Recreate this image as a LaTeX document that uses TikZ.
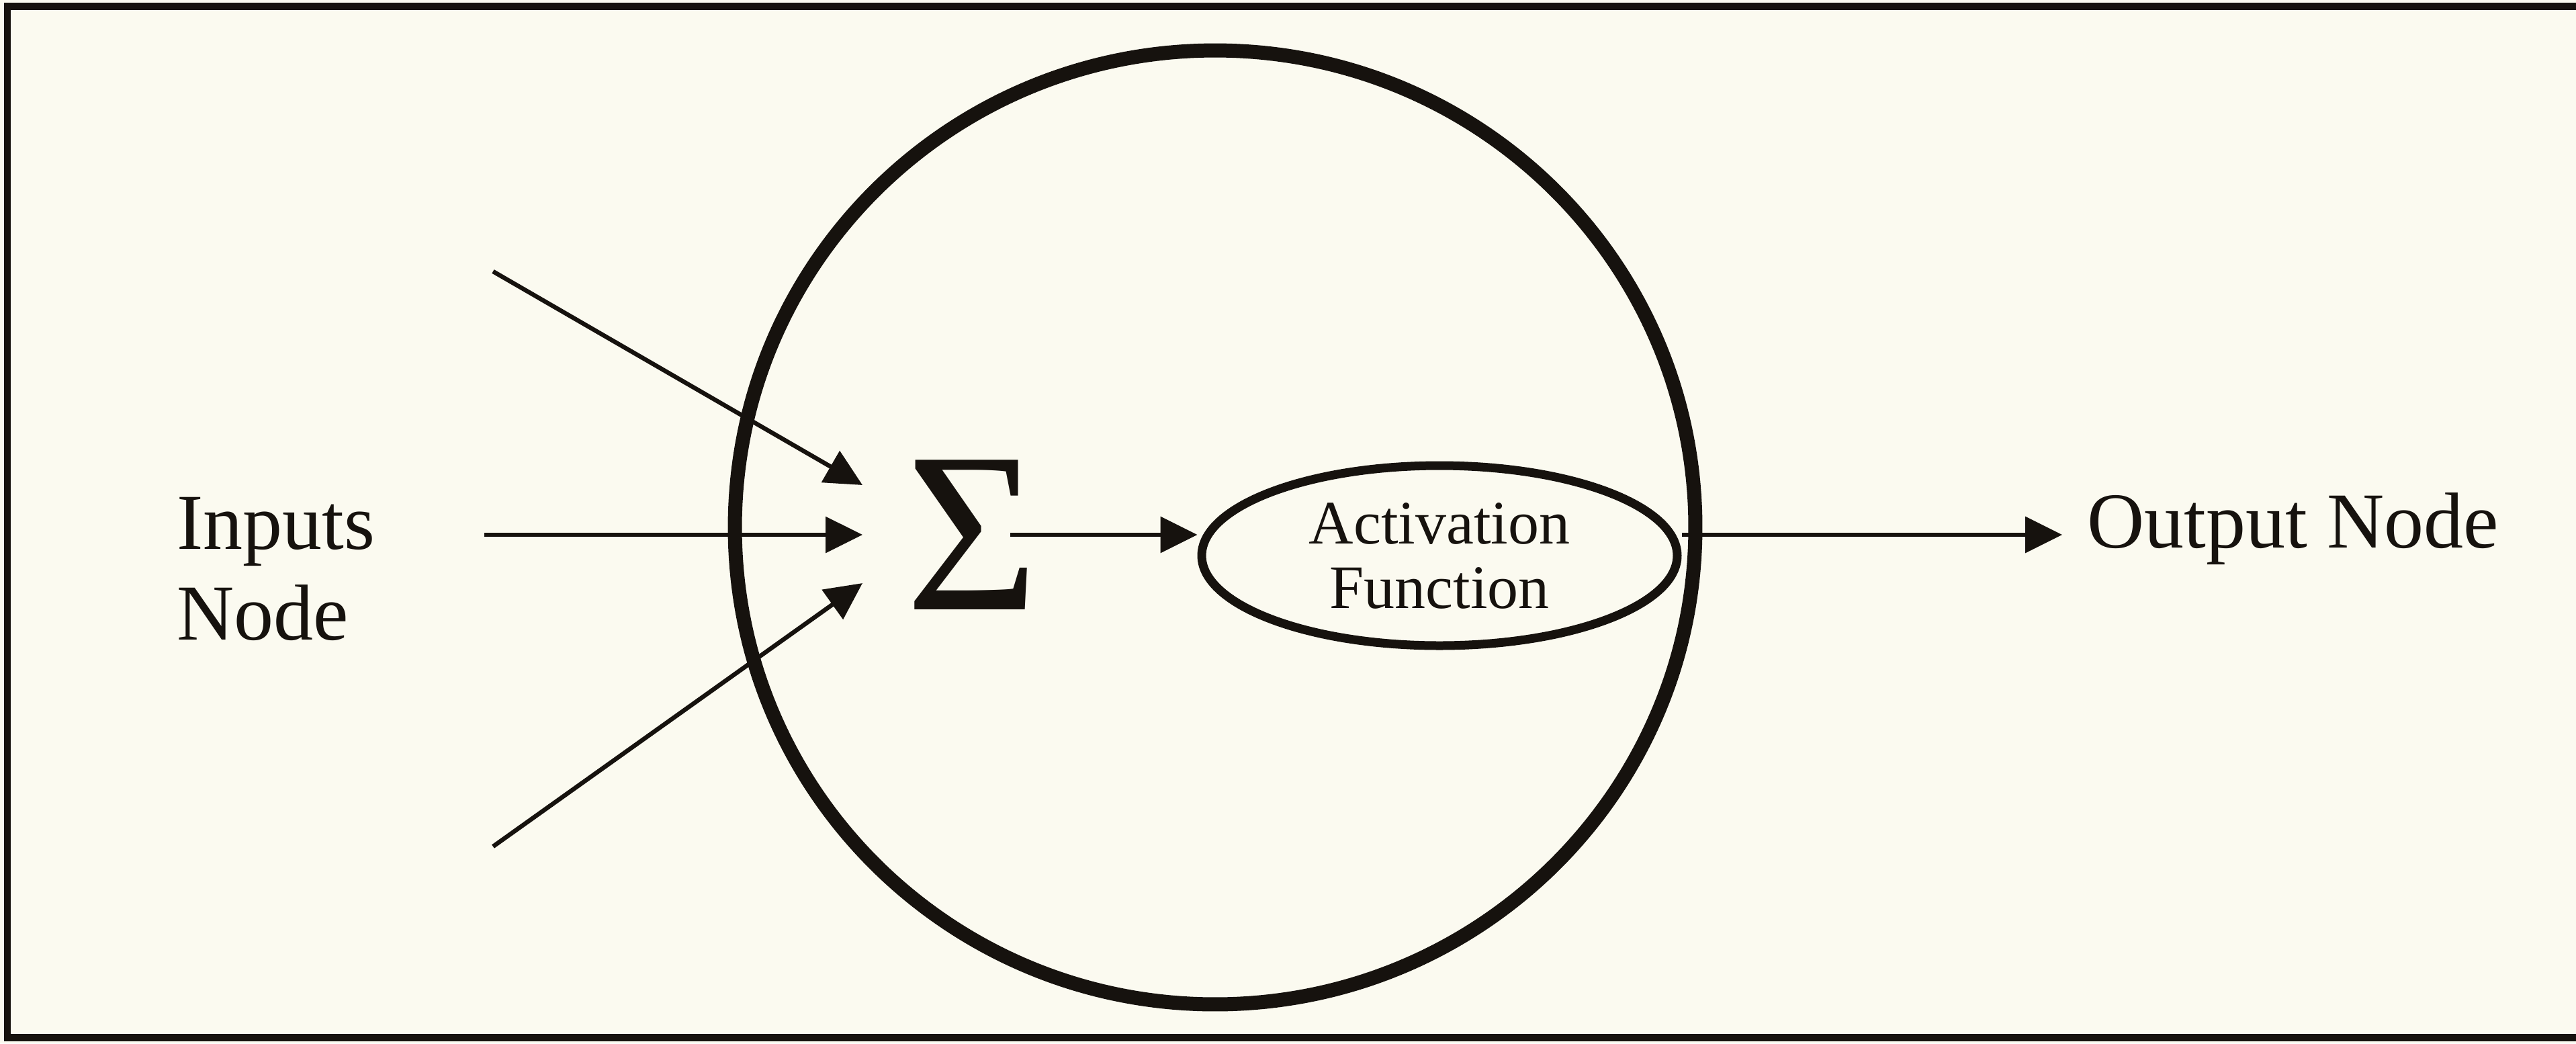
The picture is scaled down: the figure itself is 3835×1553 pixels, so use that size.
\documentclass[tikz,border=0pt]{standalone}
\usepackage{fontspec}
\setmainfont{Liberation Serif}
\usetikzlibrary{arrows.meta,shapes.geometric,calc}
\definecolor{paper}{RGB}{251,250,240}
\definecolor{ink}{RGB}{22,18,14}
\begin{document}
\begin{tikzpicture}[x=0.1pt, y=-0.1pt,
  conn/.style={draw=ink, line width=0.65pt, -{Triangle[length=5.5pt,width=5.3pt]}},
  lbl/.style={text=ink, inner sep=0pt, font=\fontsize{11.8pt}{13.5pt}\selectfont},
  bigcircle/.style={draw=ink, line width=2.1pt, ellipse, inner sep=0pt},
  actshape/.style={draw=ink, line width=1.3pt, ellipse, inner sep=0pt, align=center, text=ink, font=\fontsize{9.2pt}{9.6pt}\selectfont},
  sumshape/.style={circle, inner sep=0pt, text=ink, font=\fontsize{34pt}{34pt}\selectfont}
]
\fill[paper] (0,0) rectangle (3835,1553);
\useasboundingbox (0,0) rectangle (3835,1553);
\draw[ink, line width=1.1pt] (3835,9) -- (11,9) -- (11,1544) -- (3835,1544);
\node[bigcircle, minimum width=143pt, minimum height=142pt] (neuron) at (1809,785) {};
\node[sumshape, minimum size=32.2pt] (sum) at (1447,796) {Σ};
\node[actshape, minimum width=70.8pt, minimum height=26.8pt] (act) at (2143,827) {Activation\\Function};
\node[lbl, align=left, anchor=base west] (inp) at (261,952) {Inputs\\Node};
\node[lbl, anchor=base west, inner xsep=3.5pt] (out) at (3070,815) {Output Node};
\coordinate (in1) at (734,404);
\coordinate (in2) at (721,796);
\coordinate (in3) at (734,1260);
\draw[conn] (in1) -- ($(sum.west)+(0,-74)$);
\draw[conn] (in2) -- (sum.west);
\draw[conn] (in3) -- ($(sum.west)+(0,72)$);
\draw[conn, shorten <=5.7pt] (sum.center) -- (sum.center -| act.west);
\draw[conn] (act.east |- sum.center) -- (sum.center -| out.west);
\end{tikzpicture}
\end{document}
